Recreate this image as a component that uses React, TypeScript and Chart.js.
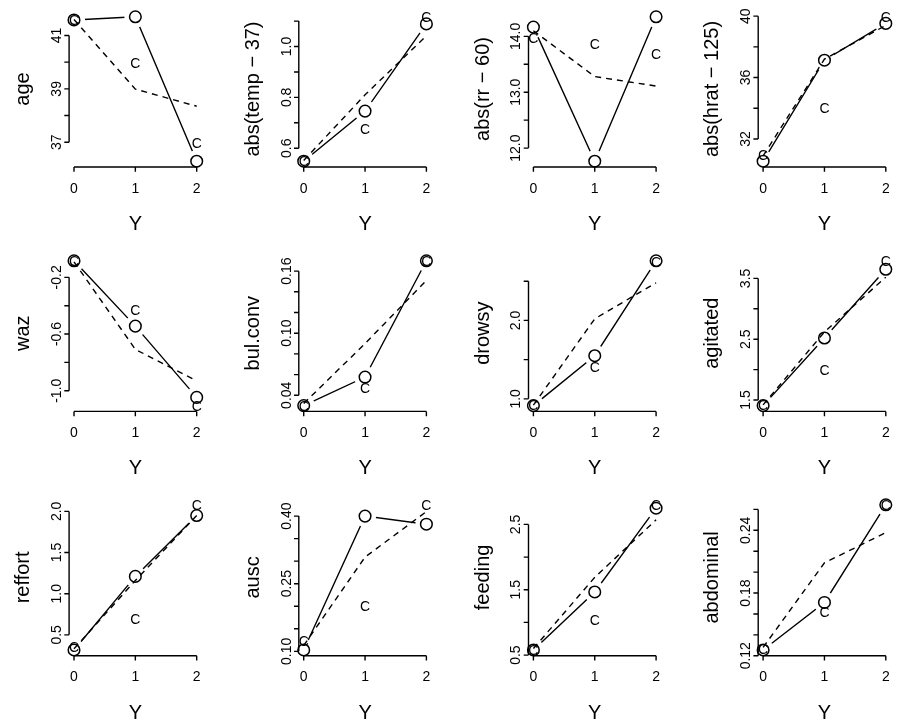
import React, { useEffect, useRef } from 'react';
import { Chart, registerables } from 'chart.js';

Chart.register(...registerables);

// ---------------- data ----------------
const categories = [0, 1, 2];
const xTickLabels = ['0', '1', '2'];
const xTitle = 'Y';
const crSymbol = 'C';

const variableNames = [
  'age', 'abs(temp − 37)', 'abs(rr − 60)', 'abs(hrat − 125)',
  'waz', 'bul.conv', 'drowsy', 'agitated',
  'reffort', 'ausc', 'feeding', 'abdominal',
];

// observed mean of X stratified by Y (solid line, circles)
const observedMeans = [
  [41.58, 41.70, 36.29],
  [0.549, 0.746, 1.089],
  [14.165, 11.765, 14.35],
  [30.55, 37.13, 39.53],
  [-0.083, -0.544, -1.047],
  [0.030, 0.0576, 0.170],
  [0.914, 1.55, 2.76],
  [1.408, 2.52, 3.65],
  [0.316, 1.21, 1.95],
  [0.103, 0.40, 0.382],
  [0.578, 1.466, 2.748],
  [0.1255, 0.171, 0.2644],
];

// expected under proportional odds (dashed line)
const poMeans = [
  [41.6, 38.99, 38.35],
  [0.552, 0.81, 1.042],
  [14.10, 13.28, 13.11],
  [30.9, 37.2, 39.4],
  [-0.09, -0.708, -0.93],
  [0.032, 0.090, 0.151],
  [0.92, 2.02, 2.48],
  [1.42, 2.62, 3.52],
  [0.33, 1.16, 1.95],
  [0.113, 0.309, 0.41],
  [0.60, 1.69, 2.57],
  [0.128, 0.2089, 0.2378],
];

// expected under continuation ratio ("C")
const crMeans = [
  [41.58, 39.98, 36.96],
  [0.549, 0.674, 1.117],
  [13.97, 13.87, 13.68],
  [30.93, 34.0, 39.96],
  [-0.085, -0.427, -1.105],
  [0.030, 0.0468, 0.170],
  [0.92, 1.40, 2.75],
  [1.42, 1.99, 3.79],
  [0.356, 0.689, 2.08],
  [0.122, 0.20, 0.425],
  [0.58, 1.03, 2.80],
  [0.126, 0.1614, 0.264],
];

const yTickValues = [
  [37, 38, 39, 40, 41],
  [0.6, 0.7, 0.8, 0.9, 1.0, 1.1],
  [12.0, 12.5, 13.0, 13.5, 14.0],
  [32, 34, 36, 38, 40],
  [-1.0, -0.8, -0.6, -0.4, -0.2],
  [0.04, 0.06, 0.08, 0.10, 0.12, 0.14, 0.16],
  [1.0, 1.5, 2.0, 2.5],
  [1.5, 2.0, 2.5, 3.0, 3.5],
  [0.5, 1.0, 1.5, 2.0],
  [0.10, 0.15, 0.20, 0.25, 0.30, 0.35, 0.40],
  [0.5, 1.0, 1.5, 2.0, 2.5],
  [0.12, 0.14, 0.16, 0.18, 0.20, 0.22, 0.24, 0.26],
];

const yTickLabels = [
  ['37', '', '39', '', '41'],
  ['0.6', '', '0.8', '', '1.0', ''],
  ['12.0', '', '13.0', '', '14.0'],
  ['32', '', '36', '', '40'],
  ['-1.0', '', '-0.6', '', '-0.2'],
  ['0.04', '', '', '0.10', '', '', '0.16'],
  ['1.0', '', '2.0', ''],
  ['1.5', '', '2.5', '', '3.5'],
  ['0.5', '1.0', '1.5', '2.0'],
  ['0.10', '', '', '0.25', '', '', '0.40'],
  ['0.5', '', '1.5', '', '2.5'],
  ['0.12', '', '', '0.18', '', '', '0.24', ''],
];

// ---------------- layout ----------------
const FONT = "'Liberation Sans', Arial, Helvetica, sans-serif";
const COL_STEP = 229.7;
const ROW_STEP = 244.4;
const REGION_LEFT0 = 69.1;
const REGION_TOP0 = 8;
const REGION_W = 132.5;
const REGION_H = 159;
const CANVAS_W = 230;
const CANVAS_H = 244;
const LW = 1.4;

function Panel({ index }: { index: number }) {
  const ref = useRef<HTMLCanvasElement>(null);
  const r = Math.floor(index / 4);
  const c = index % 4;
  const canvasLeft = Math.floor(COL_STEP * c);
  const canvasTop = Math.floor(ROW_STEP * r);

  useEffect(() => {
    if (!ref.current) return;
    const padLeft = REGION_LEFT0 + COL_STEP * c - canvasLeft;
    const padTop = REGION_TOP0 + ROW_STEP * r - canvasTop;
    const padRight = CANVAS_W - padLeft - REGION_W;
    const padBottom = CANVAS_H - padTop - REGION_H;

    const obs = observedMeans[index];
    const po = poMeans[index];
    const cr = crMeans[index];
    const all = [...obs, ...po, ...cr];
    const lo = Math.min(...all);
    const hi = Math.max(...all);
    const ext = (hi - lo) * 0.04;
    const xlo = categories[0];
    const xhi = categories[categories.length - 1];
    const xext = (xhi - xlo) * 0.04;

    const pts = (vals: number[]) => categories.map((x, i) => ({ x, y: vals[i] }));

    const axesPlugin = {
      id: 'rAxes',
      afterDatasetsDraw(chart: any) {
        const { ctx, chartArea } = chart;
        const xs = chart.scales.x;
        const ys = chart.scales.y;
        ctx.save();
        ctx.strokeStyle = '#000';
        ctx.fillStyle = '#000';
        ctx.lineWidth = LW;
        ctx.lineCap = 'butt';

        // "C" symbols at the continuation-ratio dataset's element positions
        const meta = chart.getDatasetMeta(4);
        ctx.font = `14px ${FONT}`;
        ctx.textAlign = 'center';
        ctx.textBaseline = 'alphabetic';
        meta.data.forEach((el: any) => {
          ctx.fillText(crSymbol, el.x, el.y + 5);
        });

        // x axis
        const yb = chartArea.bottom;
        const x0 = xs.getPixelForValue(categories[0]);
        const x1 = xs.getPixelForValue(categories[categories.length - 1]);
        ctx.beginPath();
        ctx.moveTo(x0, yb);
        ctx.lineTo(x1, yb);
        categories.forEach((v) => {
          const px = xs.getPixelForValue(v);
          ctx.moveTo(px, yb);
          ctx.lineTo(px, yb + 4.8);
        });
        ctx.stroke();
        ctx.font = `14px ${FONT}`;
        categories.forEach((v, i) => {
          ctx.fillText(xTickLabels[i], xs.getPixelForValue(v), yb + 25.5);
        });
        ctx.font = `20px ${FONT}`;
        ctx.fillText(xTitle, (chartArea.left + chartArea.right) / 2, yb + 63);

        // y axis
        const xl = chartArea.left;
        const ticks = yTickValues[index];
        const labels = yTickLabels[index];
        const yt0 = ys.getPixelForValue(ticks[0]);
        const yt1 = ys.getPixelForValue(ticks[ticks.length - 1]);
        ctx.beginPath();
        ctx.moveTo(xl, yt0);
        ctx.lineTo(xl, yt1);
        ticks.forEach((v) => {
          const py = ys.getPixelForValue(v);
          ctx.moveTo(xl, py);
          ctx.lineTo(xl - 4.8, py);
        });
        ctx.stroke();
        ctx.font = `14px ${FONT}`;
        ticks.forEach((v, i) => {
          if (!labels[i]) return;
          const py = ys.getPixelForValue(v);
          ctx.save();
          ctx.translate(xl - 8.3, py);
          ctx.rotate(-Math.PI / 2);
          ctx.fillText(labels[i], 0, 0);
          ctx.restore();
        });
        ctx.save();
        ctx.font = `20px ${FONT}`;
        ctx.translate(xl - 40, (chartArea.top + chartArea.bottom) / 2);
        ctx.rotate(-Math.PI / 2);
        ctx.fillText(variableNames[index], 0, 0);
        ctx.restore();
        ctx.restore();
      },
    };

    const chart = new Chart(ref.current, {
      type: 'scatter',
      data: {
        datasets: [
          {
            label: 'observed line',
            data: pts(obs),
            showLine: true,
            borderColor: '#000',
            borderWidth: LW,
            pointRadius: 0,
            order: 4,
          },
          {
            label: 'gap',
            data: pts(obs),
            showLine: false,
            pointRadius: 11,
            pointBorderWidth: 0,
            pointBackgroundColor: '#fff',
            pointBorderColor: 'rgba(0,0,0,0)',
            order: 3,
          },
          {
            label: 'proportional odds',
            data: pts(po),
            showLine: true,
            borderColor: '#000',
            borderWidth: LW,
            borderDash: [6, 5],
            pointRadius: 0,
            order: 2,
          },
          {
            label: 'observed',
            data: pts(obs),
            showLine: false,
            pointRadius: 5.8,
            pointBorderWidth: 1.5,
            pointBorderColor: '#000',
            pointBackgroundColor: 'rgba(0,0,0,0)',
            clip: false,
            order: 1,
          },
          {
            label: 'continuation ratio',
            data: pts(cr),
            showLine: false,
            pointRadius: 0,
            clip: false,
            order: 0,
          },
        ] as any,
      },
      options: {
        animation: false,
        responsive: false,
        maintainAspectRatio: false,
        events: [],
        layout: { padding: { left: padLeft, right: padRight, top: padTop, bottom: padBottom } },
        plugins: { legend: { display: false }, tooltip: { enabled: false }, title: { display: false } },
        scales: {
          x: { type: 'linear', min: xlo - xext, max: xhi + xext, display: false },
          y: { type: 'linear', min: lo - ext, max: hi + ext, display: false },
        },
      },
      plugins: [axesPlugin],
    } as any);
    return () => chart.destroy();
  }, []);

  return (
    <canvas
      ref={ref}
      width={CANVAS_W}
      height={CANVAS_H}
      style={{ position: 'absolute', left: canvasLeft, top: canvasTop, width: CANVAS_W, height: CANVAS_H }}
    />
  );
}

export default function App() {
  return (
    <div
      style={{
        position: 'absolute',
        left: 0,
        top: 0,
        width: 899,
        height: 724,
        overflow: 'hidden',
        background: '#fff',
      }}
    >
      {variableNames.map((_, i) => (
        <Panel key={i} index={i} />
      ))}
    </div>
  );
}
